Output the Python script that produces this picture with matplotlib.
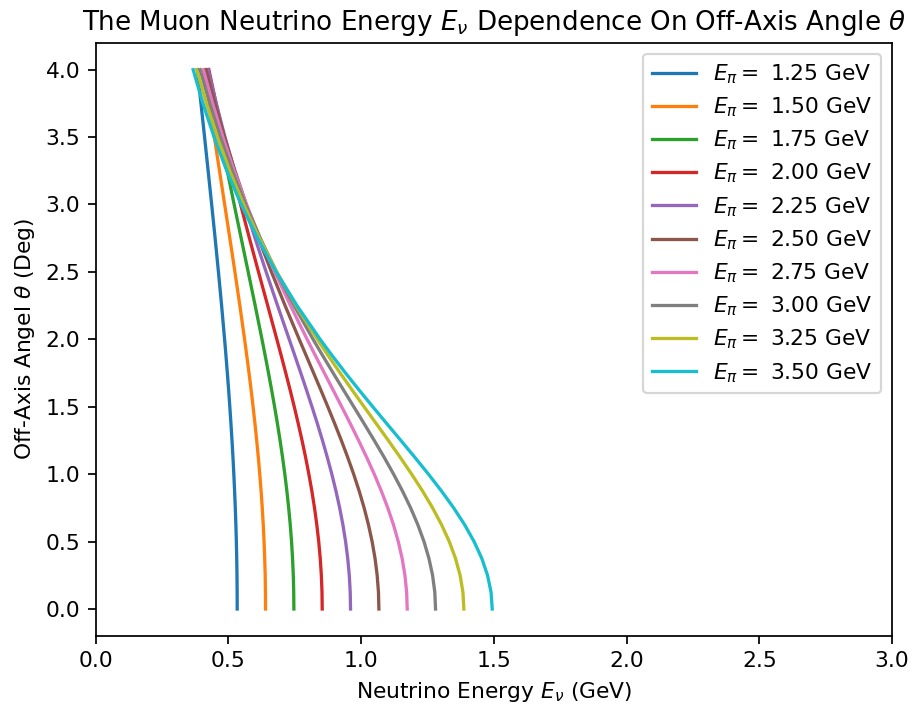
import matplotlib
matplotlib.use("Agg")
import matplotlib.pyplot as plt

# Pion energies (GeV) for each curve
pion_energies = [1.25, 1.50, 1.75, 2.00, 2.25, 2.50, 2.75, 3.00, 3.25, 3.50]

# Off-axis angle samples (deg)
angles = [0.0, 0.125, 0.25, 0.375, 0.5, 0.625, 0.75, 0.875, 1.0,
          1.125, 1.25, 1.375, 1.5, 1.625, 1.75, 1.875, 2.0,
          2.25, 2.5, 2.75, 3.0, 3.25, 3.5, 3.75, 4.0]

# Neutrino energies (GeV) at the angles above
enu_125 = [0.5336, 0.5334, 0.5328, 0.5318, 0.5304, 0.5286, 0.5264, 0.5238, 0.5209,
           0.5176, 0.5140, 0.5100, 0.5058, 0.5013, 0.4965, 0.4914, 0.4861,
           0.4749, 0.4629, 0.4504, 0.4374, 0.4241, 0.4107, 0.3971, 0.3836]
enu_150 = [0.6404, 0.6400, 0.6390, 0.6372, 0.6348, 0.6317, 0.6280, 0.6236, 0.6186,
           0.6131, 0.6070, 0.6005, 0.5934, 0.5860, 0.5781, 0.5699, 0.5614,
           0.5436, 0.5250, 0.5058, 0.4864, 0.4669, 0.4475, 0.4284, 0.4097]
enu_175 = [0.7471, 0.7465, 0.7449, 0.7421, 0.7383, 0.7334, 0.7275, 0.7207, 0.7130,
           0.7044, 0.6951, 0.6851, 0.6744, 0.6632, 0.6515, 0.6394, 0.6270,
           0.6013, 0.5750, 0.5485, 0.5221, 0.4961, 0.4709, 0.4465, 0.4230]
enu_200 = [0.8538, 0.8530, 0.8505, 0.8464, 0.8407, 0.8334, 0.8248, 0.8148, 0.8035,
           0.7912, 0.7778, 0.7635, 0.7485, 0.7328, 0.7165, 0.6999, 0.6829,
           0.6485, 0.6138, 0.5796, 0.5463, 0.5141, 0.4834, 0.4542, 0.4267]
enu_225 = [0.9605, 0.9593, 0.9558, 0.9499, 0.9419, 0.9317, 0.9196, 0.9056, 0.8900,
           0.8730, 0.8548, 0.8355, 0.8153, 0.7944, 0.7731, 0.7514, 0.7295,
           0.6857, 0.6426, 0.6008, 0.5609, 0.5231, 0.4876, 0.4545, 0.4238]
enu_250 = [1.0673, 1.0657, 1.0608, 1.0528, 1.0418, 1.0280, 1.0117, 0.9930, 0.9723,
           0.9498, 0.9259, 0.9008, 0.8749, 0.8484, 0.8214, 0.7944, 0.7673,
           0.7140, 0.6626, 0.6137, 0.5678, 0.5252, 0.4858, 0.4495, 0.4163]
enu_275 = [1.1740, 1.1718, 1.1654, 1.1548, 1.1403, 1.1222, 1.1008, 1.0765, 1.0499,
           1.0212, 0.9909, 0.9595, 0.9273, 0.8946, 0.8619, 0.8292, 0.7970,
           0.7344, 0.6751, 0.6198, 0.5687, 0.5220, 0.4795, 0.4409, 0.4059]
enu_300 = [1.2807, 1.2779, 1.2695, 1.2558, 1.2372, 1.2140, 1.1868, 1.1561, 1.1227,
           1.0871, 1.0498, 1.0115, 0.9727, 0.9337, 0.8950, 0.8568, 0.8194,
           0.7479, 0.6814, 0.6204, 0.5650, 0.5151, 0.4702, 0.4299, 0.3939]
enu_325 = [1.3874, 1.3838, 1.3732, 1.3559, 1.3324, 1.3033, 1.2695, 1.2317, 1.1907,
           1.1475, 1.1028, 1.0573, 1.0115, 0.9661, 0.9214, 0.8777, 0.8355,
           0.7556, 0.6827, 0.6169, 0.5580, 0.5055, 0.4589, 0.4176, 0.3809]
enu_350 = [1.4942, 1.4897, 1.4765, 1.4550, 1.4259, 1.3902, 1.3489, 1.3031, 1.2540,
           1.2026, 1.1500, 1.0969, 1.0442, 0.9923, 0.9417, 0.8929, 0.8460,
           0.7586, 0.6800, 0.6102, 0.5485, 0.4942, 0.4465, 0.4045, 0.3676]

series = [enu_125, enu_150, enu_175, enu_200, enu_225,
          enu_250, enu_275, enu_300, enu_325, enu_350]

DPI = 157
fig = plt.figure(figsize=(916 / DPI, 709 / DPI), dpi=DPI)
ax = fig.add_axes([0.1043, 0.1030, 0.9738 - 0.1043, 0.9398 - 0.1030])

for epi, enu in zip(pion_energies, series):
    ax.plot(enu, angles, label=r"$E_\pi = $ " + f"{epi:.2f} GeV")

ax.set_xlim(0, 3)
ax.set_xlabel(r"Neutrino Energy $E_\nu$ (GeV)")
ax.set_ylabel(r"Off-Axis Angel $\theta$ (Deg)")
ax.set_title(r"The Muon Neutrino Energy $E_\nu$ Dependence On Off-Axis Angle $\theta$")
ax.legend(loc="upper right", labelspacing=0.44)

fig.savefig("out.png", dpi=DPI)
